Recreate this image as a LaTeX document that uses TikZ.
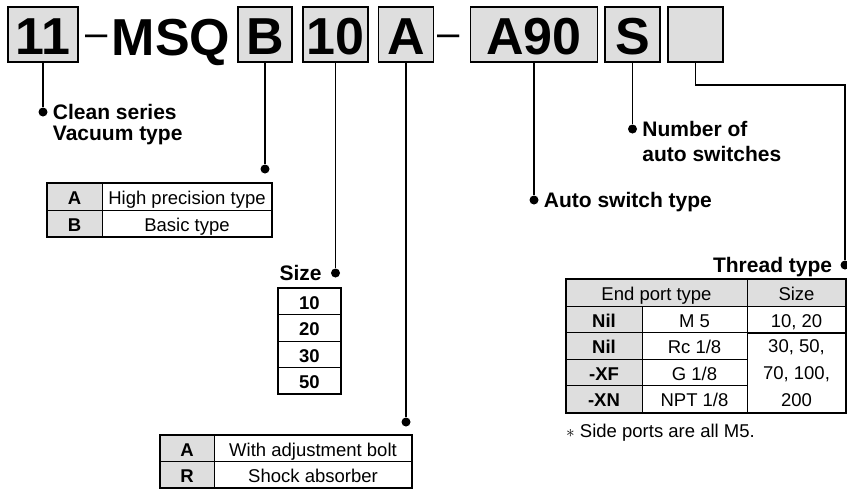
\documentclass[tikz,border=0pt]{standalone}
\usepackage{fontspec}
\setmainfont{Liberation Sans}
\usetikzlibrary{positioning}

\definecolor{boxgray}{gray}{0.87}
\newcommand{\codefont}{\fontsize{52}{60}\selectfont\bfseries}
\newcommand{\dashfont}{\fontsize{40}{44}\selectfont}
\newcommand{\lblfont}{\fontsize{21}{21}\selectfont\bfseries}
\newcommand{\cellfont}{\fontsize{18.5}{26.5}\selectfont}

\begin{document}
\begin{tikzpicture}[x=1pt, y=-1pt,
    codebox/.style={draw, line width=1.8pt, fill=boxgray, minimum height=55pt,
      inner sep=0pt, outer sep=0pt, font=\codefont, text height=40pt, text depth=0pt},
    ldot/.style={circle, fill, inner sep=0pt, minimum size=9pt},
    lbl/.style={inner sep=0pt, font=\lblfont, text depth=0pt},
    lblbox/.style={inner sep=0pt, font=\lblfont, align=left},
    lead/.style={line width=1.8pt},
    frame/.style={line width=1.8pt},
    cellbase/.style={draw, line width=0.8pt, inner sep=0pt, outer sep=0pt, font=\cellfont},
    cell/.style={cellbase, text height=16pt, text depth=0pt},
    gcell/.style={cell, fill=boxgray, font=\cellfont\bfseries}]

    \useasboundingbox (0,0) rectangle (847,488);

    % order code
    \node[codebox, minimum width=70pt] (b11) at (43,34.5) {11};
    \node[anchor=base, inner sep=0pt, font=\dashfont] (dash1) at (96.5,46.5) {–};
    \node[anchor=base west, inner sep=0pt, font=\codefont] (msq) at (111.5,55) {MSQ};
    \node[codebox, minimum width=54pt] (bB) at (265,34.5) {B};
    \node[codebox, minimum width=65pt] (b10) at (335.5,34.5) {10};
    \node[codebox, minimum width=55pt] (bA) at (406,34.5) {A};
    \node[anchor=base, inner sep=0pt, font=\dashfont] (dash2) at (449,46.5) {–};
    \node[codebox, minimum width=127pt] (bA90) at (534,34.5) {A90};
    \node[codebox, minimum width=55pt] (bS) at (632.5,34.5) {S};
    \node[codebox, minimum width=55pt] (bT) at (695.5,34.5) {};

    % dots and labels
    \node[ldot] (d11) at (43,112) {};
    \node[lblbox, right=5pt of d11, anchor=north west, yshift=7.5pt] (t11) {Clean series\\Vacuum type};
    \node[ldot] (dB) at (265,169) {};
    \node[ldot] (d10) at (335.5,273) {};
    \node[lbl, left=9pt of d10] (t10) {Size};
    \node[ldot] (dA) at (406,422) {};
    \node[ldot] (dA90) at (534,200) {};
    \node[lbl, right=5pt of dA90] (tA90) {Auto switch type};
    \node[ldot] (dS) at (632.5,129) {};
    \node[lblbox, right=5pt of dS, anchor=north west, yshift=7.5pt] (tS) {Number of\\[3.5pt]auto switches};
    \node[ldot] (dT) at (845,265) {};
    \node[lbl, left=8pt of dT] (tT) {Thread type};
    \coordinate (tbend) at (845,85);

    \draw[lead] (b11) -- (d11);
    \draw[lead] (bB) -- (dB);
    \draw[lead] (b10) -- (d10);
    \draw[lead] (bA) -- (dA);
    \draw[lead] (bA90) -- (dA90);
    \draw[lead] (bS) -- (dS);
    \draw[lead] (bT.south) |- (tbend) -- (dT);

    % body option
    \node[gcell, minimum width=55pt, minimum height=27pt] (abA) at (74.5,196.5) {A};
    \node[cell, minimum width=170pt, minimum height=27pt] (abAt) at (187,196.5) {High precision type};
    \node[gcell, minimum width=55pt, minimum height=27pt] (abB) at (74.5,223.5) {B};
    \node[cell, minimum width=170pt, minimum height=27pt] (abBt) at (187,223.5) {Basic type};
    \draw[frame] (abA.north west) rectangle (abBt.south east);

    % bore size
    \foreach \s [count=\i] in {10,20,30,50} {
        \node[cell, minimum width=63pt, minimum height=26.5pt, font=\cellfont\bfseries]
            (sz\i) at (309.5,274.75+26.5*\i) {\s};
    }
    \draw[frame] (sz1.north west) rectangle (sz4.south east);

    % cushion
    \node[gcell, minimum width=54pt, minimum height=26pt] (arA) at (187,448) {A};
    \node[cell, minimum width=198pt, minimum height=26pt] (arAt) at (313,448) {With adjustment bolt};
    \node[gcell, minimum width=54pt, minimum height=27pt] (arR) at (187,474.5) {R};
    \node[cell, minimum width=198pt, minimum height=27pt] (arRt) at (313,474.5) {Shock absorber};
    \draw[frame] (arA.north west) rectangle (arRt.south east);

    % thread type
    \node[gcell, minimum width=181pt, minimum height=27pt, font=\cellfont] (thH) at (656.5,292.5) {End port type};
    \node[gcell, minimum width=99pt, minimum height=27pt, font=\cellfont] (thS) at (796.5,292.5) {Size};
    \foreach \c/\t [count=\i] in {Nil/M 5, Nil/Rc 1\slash 8, -XF/G 1\slash 8, -XN/NPT 1\slash 8} {
        \node[gcell, minimum width=76pt, minimum height=26.5pt] (thc\i) at (604,292.75+26.5*\i) {\c};
        \node[cell, minimum width=105pt, minimum height=26.5pt] (tht\i) at (694.5,292.75+26.5*\i) {\t};
    }
    \node[cell, minimum width=99pt, minimum height=26.5pt] (ths1) at (796.5,319.25) {10, 20};
    \node[cellbase, align=center, minimum width=99pt, minimum height=79.5pt,
        font=\fontsize{18.5}{27}\selectfont] (ths2) at (796.5,373)
        {30, 50,\\70, 100,\\200};
    \draw[frame] (thH.north west) rectangle (ths1.east |- ths2.south);
    \node[anchor=west, inner sep=0pt, font=\cellfont, text depth=0pt] (note) at (566,431)
        {$\ast$ Side ports are all M5.};
\end{tikzpicture}
\end{document}
